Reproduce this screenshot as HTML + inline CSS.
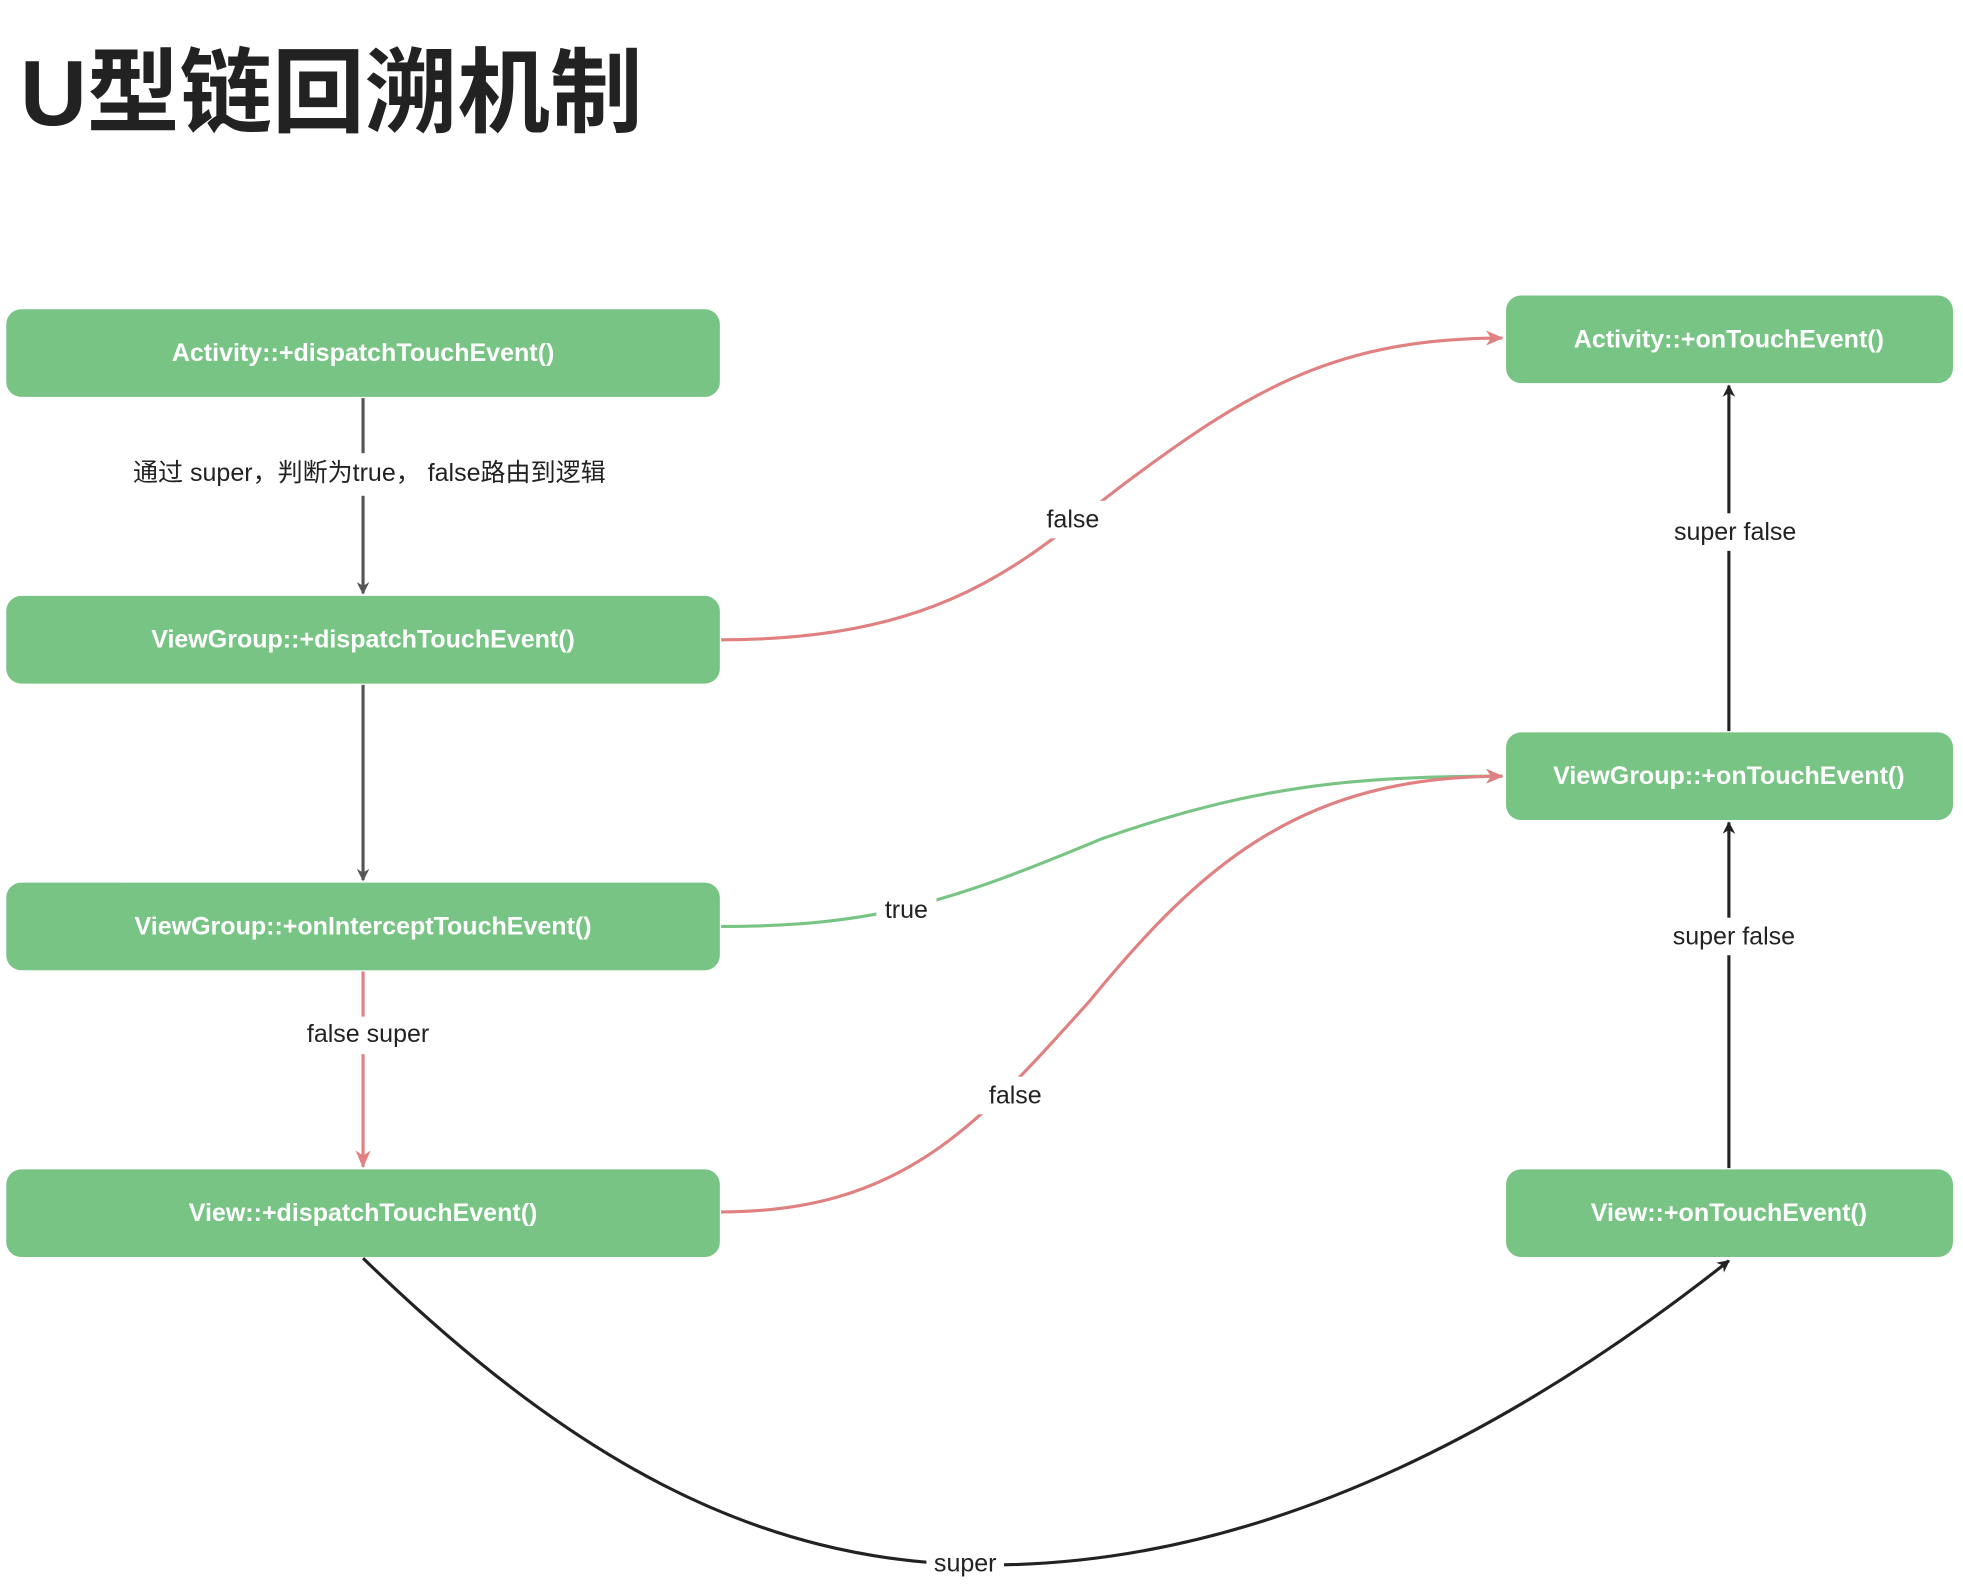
<!DOCTYPE html>
<html><head><meta charset="utf-8"><style>
html,body{margin:0;padding:0;background:#fff;}
svg{display:block;}
.bt{font-family:"Liberation Sans","Noto Sans CJK SC",sans-serif;font-weight:bold;font-size:20px;fill:#fff;text-anchor:middle;dominant-baseline:central;}
.lb{font-family:"Liberation Sans","Noto Sans CJK SC",sans-serif;font-size:20px;fill:#222;text-anchor:middle;dominant-baseline:central;}
</style></head><body>
<svg width="1963" height="1592" viewBox="0 0 1568 1271.6" preserveAspectRatio="none" xmlns="http://www.w3.org/2000/svg">
<defs>
<marker id="ag" markerWidth="10" markerHeight="10" refX="9" refY="5" orient="auto" markerUnits="userSpaceOnUse"><path d="M0,0 L10,5 L0,10 L3,5 z" fill="#555"/></marker>
<marker id="ak" markerWidth="10" markerHeight="10" refX="9" refY="5" orient="auto" markerUnits="userSpaceOnUse"><path d="M0,0 L10,5 L0,10 L3,5 z" fill="#222"/></marker>
<marker id="ar" markerWidth="14" markerHeight="12" refX="13" refY="6" orient="auto" markerUnits="userSpaceOnUse"><path d="M0,0 L14,6 L0,12 L4,6 z" fill="#E08080"/></marker>
<marker id="agr" markerWidth="14" markerHeight="12" refX="13" refY="6" orient="auto" markerUnits="userSpaceOnUse"><path d="M0,0 L14,6 L0,12 L4,6 z" fill="#78C485"/></marker>
</defs>
<text x="16" y="100" font-family="Liberation Sans,Noto Sans CJK SC,sans-serif" font-weight="bold" font-size="74" fill="#222">U型链回溯机制</text>

<g fill="#78C485">
<rect x="5" y="247" width="570" height="70" rx="12"/>
<rect x="5" y="476" width="570" height="70" rx="12"/>
<rect x="5" y="705" width="570" height="70" rx="12"/>
<rect x="5" y="934" width="570" height="70" rx="12"/>
<rect x="1203" y="236" width="357" height="70" rx="12"/>
<rect x="1203" y="585" width="357" height="70" rx="12"/>
<rect x="1203" y="934" width="357" height="70" rx="12"/>
</g>
<text class="bt" x="290" y="282">Activity::+dispatchTouchEvent()</text>
<text class="bt" x="290" y="511">ViewGroup::+dispatchTouchEvent()</text>
<text class="bt" x="290" y="740">ViewGroup::+onInterceptTouchEvent()</text>
<text class="bt" x="290" y="969">View::+dispatchTouchEvent()</text>
<text class="bt" x="1381" y="271">Activity::+onTouchEvent()</text>
<text class="bt" x="1381" y="620">ViewGroup::+onTouchEvent()</text>
<text class="bt" x="1381" y="969">View::+onTouchEvent()</text>

<g fill="none" stroke-width="2.5">
<path d="M290,318 L290,474" stroke="#555" marker-end="url(#ag)"/>
<path d="M290,547 L290,703" stroke="#555" marker-end="url(#ag)"/>
<path d="M290,776 L290,932" stroke="#E08080" marker-end="url(#ar)"/>
<path d="M576,511 C760,511 820,445 900,385 C1000,310 1070,270 1200,270" stroke="#E08080" marker-end="url(#ar)"/>
<path d="M576,740 C700,740 760,720 880,670 C1000,628 1080,620 1200,620" stroke="#78C485" marker-end="url(#agr)"/>
<path d="M576,968 C720,968 780,900 870,800 C960,690 1040,620 1200,620" stroke="#E08080" marker-end="url(#ar)"/>
<path d="M290,1005 C450,1160 600,1250 790,1250 C1000,1250 1200,1150 1381,1007" stroke="#222" marker-end="url(#ak)"/>
<path d="M1381,933 L1381,657" stroke="#222" marker-end="url(#ak)"/>
<path d="M1381,584 L1381,308" stroke="#222" marker-end="url(#ak)"/>
</g>

<g fill="#fff">
<rect x="78" y="362" width="434" height="34"/>
<rect x="230" y="812" width="128" height="30"/>
<rect x="828" y="400" width="58" height="30"/>
<rect x="700" y="712" width="48" height="30"/>
<rect x="782" y="860" width="58" height="30"/>
<rect x="740" y="1236" width="62" height="28"/>
<rect x="1326" y="733" width="120" height="30"/>
<rect x="1326" y="410" width="122" height="30"/>
</g>
<text class="lb" x="295" y="378">通过 super，判断为true， false路由到逻辑</text>
<text class="lb" x="294" y="826">false  super</text>
<text class="lb" x="857" y="415">false</text>
<text class="lb" x="724" y="727">true</text>
<text class="lb" x="811" y="875">false</text>
<text class="lb" x="771" y="1249">super</text>
<text class="lb" x="1385" y="748">super false</text>
<text class="lb" x="1386" y="425">super false</text>
</svg>
</body></html>
